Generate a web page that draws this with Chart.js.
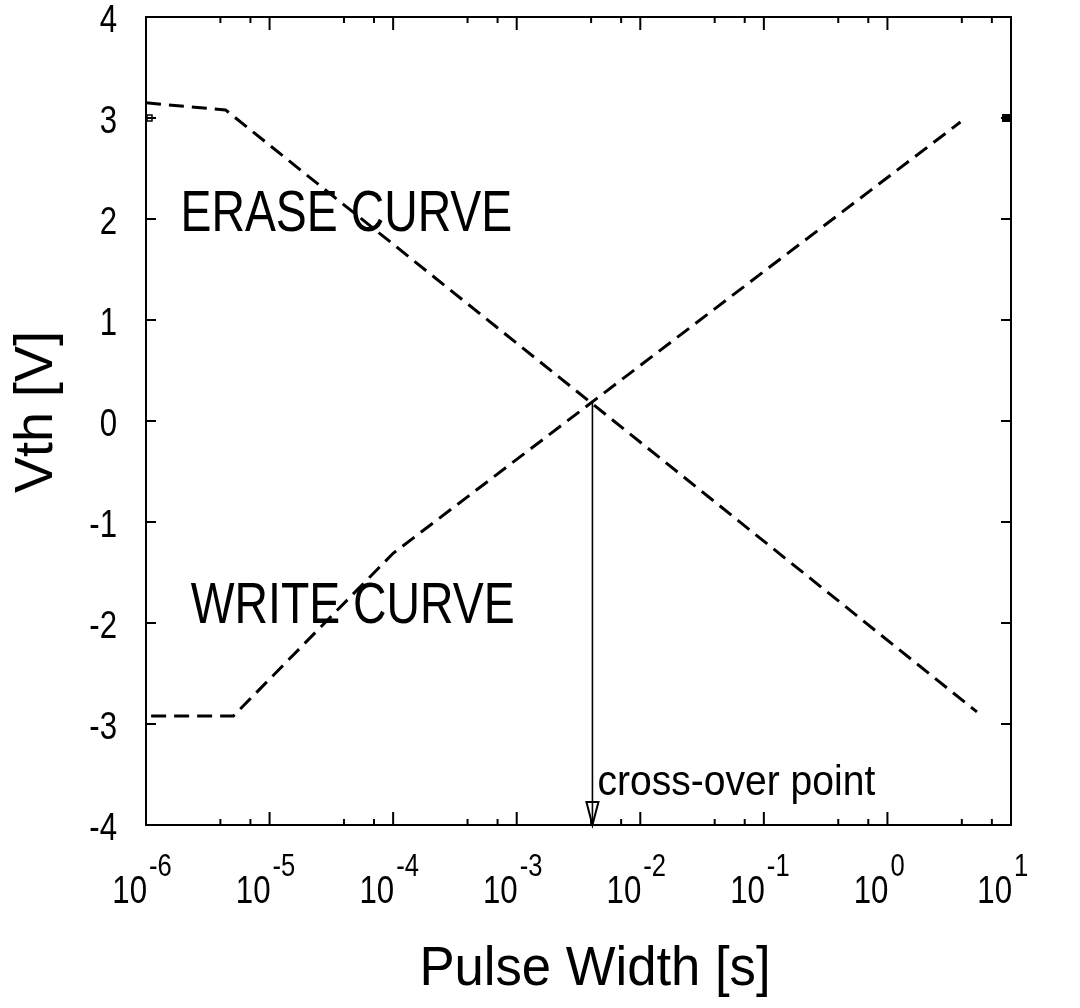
<!DOCTYPE html>
<html>
<head>
<meta charset="utf-8">
<script src="https://cdn.jsdelivr.net/npm/chart.js@4.4.1/dist/chart.umd.min.js"></script>
<style>
    html, body { margin: 0; padding: 0; background: #fff; }
    #wrap { width: 1080px; height: 1008px; }
</style>
</head>
<body>
<div id="wrap"><canvas id="chartPulse"></canvas></div>
<script>
/* --------------------------------------------
   Datos
-------------------------------------------- */
const eraseX = [1.0e-6, 4.4e-6, 5.3];
const eraseY = [3.15, 3.08, -2.88];

const writeX = [1.1e-6, 5.1e-6, 1.0e-4, 3.9];
const writeY = [-2.92, -2.92, -1.31, 2.96];

const crossX = 4.1e-3;
const crossY = 0.2;

const xTickExp = [-6, -5, -4, -3, -2, -1, 0, 1];
const xMinorMult = [4, 7];
const yTicks = [4, 3, 2, 1, 0, -1, -2, -3, -4];
const markerY = 3;

const FONT = '"Liberation Sans", Arial, Helvetica, sans-serif';

const toPoints = (xs, ys) => xs.map((x, i) => ({ x: x, y: ys[i] }));

/* Texto estrechado en horizontal (imita Helvetica Narrow) */
const drawNarrow = (ctx, text, x, y, size, sx, align) => {
    ctx.save();
    ctx.font = size + "px " + FONT;
    ctx.textAlign = align;
    ctx.textBaseline = "alphabetic";
    ctx.translate(x, y);
    ctx.scale(sx, 1);
    ctx.fillText(text, 0, 0);
    ctx.restore();
};

/* --------------------------------------------
   Plugin: marco, ticks, textos y flecha
-------------------------------------------- */
const framePlugin = {
    id: "framePlugin",
    afterDraw(chart) {
        const ctx = chart.ctx;
        const xs = chart.scales.x;
        const ys = chart.scales.y;
        const { left, right, top, bottom } = chart.chartArea;

        ctx.save();
        ctx.strokeStyle = "#000";
        ctx.fillStyle = "#000";
        ctx.lineWidth = 2;
        ctx.setLineDash([]);

        // marco
        ctx.strokeRect(left, top, right - left, bottom - top);

        // ticks eje x (abajo y arriba)
        ctx.beginPath();
        xTickExp.forEach(e => {
            const px = xs.getPixelForValue(Math.pow(10, e));
            ctx.moveTo(px, bottom); ctx.lineTo(px, bottom - 13);
            ctx.moveTo(px, top); ctx.lineTo(px, top + 13);
            if (e < 1) {
                xMinorMult.forEach(m => {
                    const pm = xs.getPixelForValue(m * Math.pow(10, e));
                    ctx.moveTo(pm, bottom); ctx.lineTo(pm, bottom - 6);
                    ctx.moveTo(pm, top); ctx.lineTo(pm, top + 6);
                });
            }
        });
        // ticks eje y (izquierda y derecha)
        yTicks.forEach(v => {
            const py = ys.getPixelForValue(v);
            ctx.moveTo(left, py); ctx.lineTo(left + 10, py);
            ctx.moveTo(right, py); ctx.lineTo(right - 10, py);
        });
        ctx.stroke();

        // etiquetas eje y
        yTicks.forEach(v => {
            drawNarrow(ctx, String(v), left - 29, ys.getPixelForValue(v) + 15, 39, 0.8, "right");
        });

        // etiquetas eje x: 10 con exponente
        xTickExp.forEach(e => {
            const px = xs.getPixelForValue(Math.pow(10, e));
            drawNarrow(ctx, "10", px + 1, bottom + 78, 39, 0.8, "right");
            drawNarrow(ctx, String(e), px + 3, bottom + 51, 32, 0.8, "left");
        });

        // títulos de ejes
        drawNarrow(ctx, "Pulse Width [s]", 595, 985, 56, 0.94, "center");

        ctx.save();
        ctx.translate(52, 412);
        ctx.rotate(-Math.PI / 2);
        drawNarrow(ctx, "Vth [V]", 0, 0, 54, 1, "center");
        ctx.restore();

        // textos de curvas
        drawNarrow(ctx, "ERASE CURVE", xs.getPixelForValue(1.9e-6), ys.getPixelForValue(1.88), 58, 0.8, "left");
        drawNarrow(ctx, "WRITE CURVE", xs.getPixelForValue(2.3e-6), ys.getPixelForValue(-2.0), 58, 0.8, "left");

        // flecha del punto de cruce
        const cx = xs.getPixelForValue(crossX);
        const cy = ys.getPixelForValue(crossY);
        ctx.lineWidth = 1.6;
        ctx.beginPath();
        ctx.moveTo(cx, cy);
        ctx.lineTo(cx, bottom);
        ctx.stroke();
        ctx.lineWidth = 2;
        ctx.beginPath();
        ctx.moveTo(cx - 6, bottom - 23);
        ctx.lineTo(cx + 6, bottom - 23);
        ctx.lineTo(cx, bottom);
        ctx.closePath();
        ctx.stroke();

        drawNarrow(ctx, "cross-over point", cx + 5, ys.getPixelForValue(-3.7), 42, 0.93, "left");

        // marcas pequeñas en y = 3
        const my = ys.getPixelForValue(markerY);
        ctx.lineWidth = 1.5;
        ctx.strokeRect(left + 1, my - 3, 5, 6);
        ctx.fillRect(right - 9, my - 4, 8, 8);

        ctx.restore();
    }
};

/* --------------------------------------------
   Gráfico
-------------------------------------------- */
const ctxPulse = document.getElementById("chartPulse");
new Chart(ctxPulse, {
    type: "line",
    data: {
        datasets: [
            {
                label: "Erase curve",
                data: toPoints(eraseX, eraseY),
                borderColor: "#000",
                borderWidth: 3,
                borderDash: [15, 8],
                pointRadius: 0,
                tension: 0,
                fill: false
            },
            {
                label: "Write curve",
                data: toPoints(writeX, writeY),
                borderColor: "#000",
                borderWidth: 3,
                borderDash: [15, 8],
                pointRadius: 0,
                tension: 0,
                fill: false
            }
        ]
    },
    options: {
        responsive: true,
        maintainAspectRatio: false,
        animation: false,
        devicePixelRatio: 1,
        layout: {
            padding: { left: 146, right: 69, top: 17, bottom: 183 }
        },
        plugins: {
            legend: { display: false },
            tooltip: { enabled: false }
        },
        scales: {
            x: {
                type: "logarithmic",
                min: 1e-6,
                max: 10,
                display: false
            },
            y: {
                type: "linear",
                min: -4,
                max: 4,
                display: false
            }
        }
    },
    plugins: [framePlugin]
});
</script>
</body>
</html>
